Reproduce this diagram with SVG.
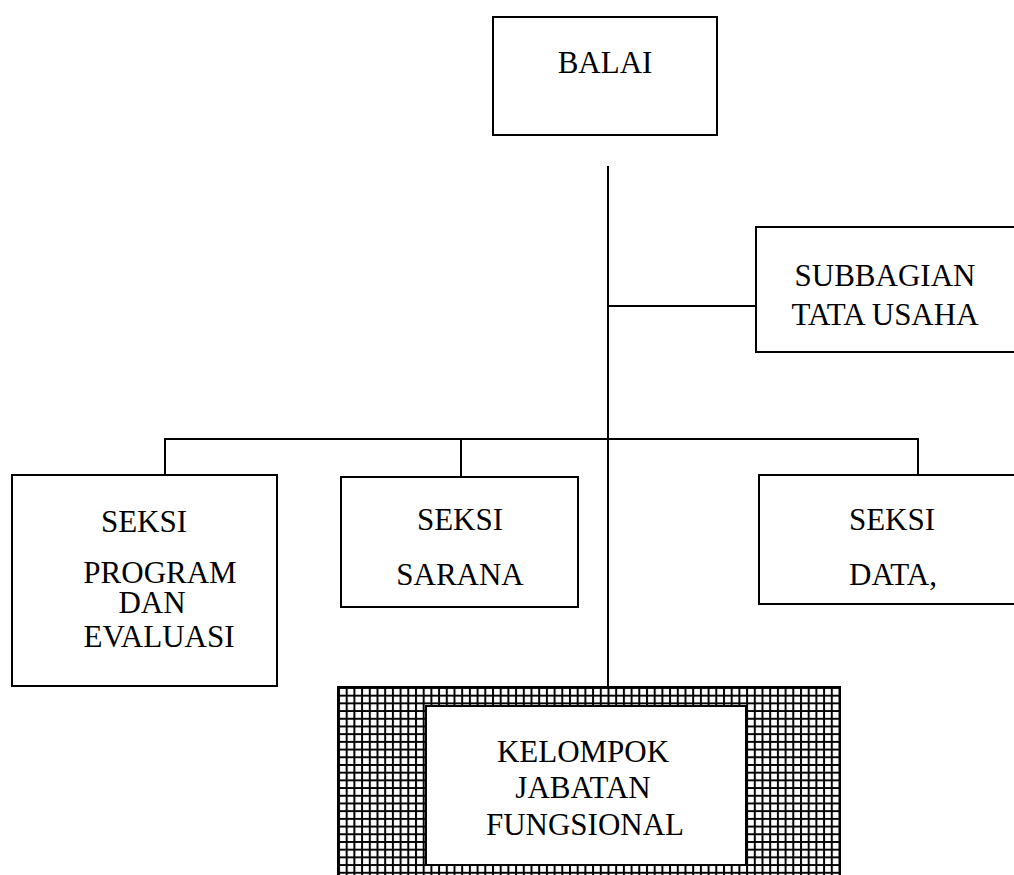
<svg xmlns="http://www.w3.org/2000/svg" width="1014" height="875" viewBox="0 0 1014 875">
<style>
.box{fill:#fff;stroke:#000;stroke-width:2}
.ln{stroke:#000;stroke-width:2;fill:none}
text{font-family:"Liberation Serif","Times New Roman",serif;font-size:31px;fill:#000;text-anchor:middle}
</style>
<defs>
<pattern id="grid" x="338" y="687" width="7.7" height="7.7" patternUnits="userSpaceOnUse">
<rect width="7.7" height="7.7" fill="#fff"/>
<path d="M0 0.9H7.7M0.9 0V7.7" stroke="#000" stroke-width="2.2"/>
</pattern>
</defs>
<rect width="1014" height="875" fill="#fff"/>
<g id="connectors">
<line class="ln" x1="608" y1="166" x2="608" y2="688"/>
<line class="ln" x1="608" y1="306" x2="756" y2="306"/>
<line class="ln" x1="164" y1="439" x2="919" y2="439"/>
<line class="ln" x1="165" y1="438" x2="165" y2="476"/>
<line class="ln" x1="461" y1="438" x2="461" y2="477"/>
<line class="ln" x1="918" y1="438" x2="918" y2="475"/>
</g>
<g id="balai">
<rect class="box" x="493" y="17" width="224" height="118"/>
<text x="605" y="73">BALAI</text>
</g>
<g id="subbagian">
<rect class="box" x="756" y="227" width="270" height="125"/>
<text x="885" y="286">SUBBAGIAN</text>
<text x="885" y="325">TATA USAHA</text>
</g>
<g id="seksi-program">
<rect class="box" x="12" y="475" width="265" height="211"/>
<text x="144" y="532">SEKSI</text>
<text x="160" y="583">PROGRAM</text>
<text x="152" y="613">DAN</text>
<text x="159" y="647">EVALUASI</text>
</g>
<g id="seksi-sarana">
<rect class="box" x="341" y="477" width="237" height="130"/>
<text x="460" y="530">SEKSI</text>
<text x="460" y="585">SARANA</text>
</g>
<g id="seksi-data">
<rect class="box" x="759" y="475" width="270" height="129"/>
<text x="892" y="530">SEKSI</text>
<text x="893" y="585">DATA,</text>
</g>
<g id="kelompok">
<rect x="338" y="687" width="502" height="200" fill="url(#grid)" stroke="#000" stroke-width="2"/>
<rect class="box" x="426" y="706" width="320" height="159" stroke="#444" stroke-width="3"/>
<text x="583" y="762">KELOMPOK</text>
<text x="583" y="798">JABATAN</text>
<text x="585" y="835">FUNGSIONAL</text>
</g>
</svg>
